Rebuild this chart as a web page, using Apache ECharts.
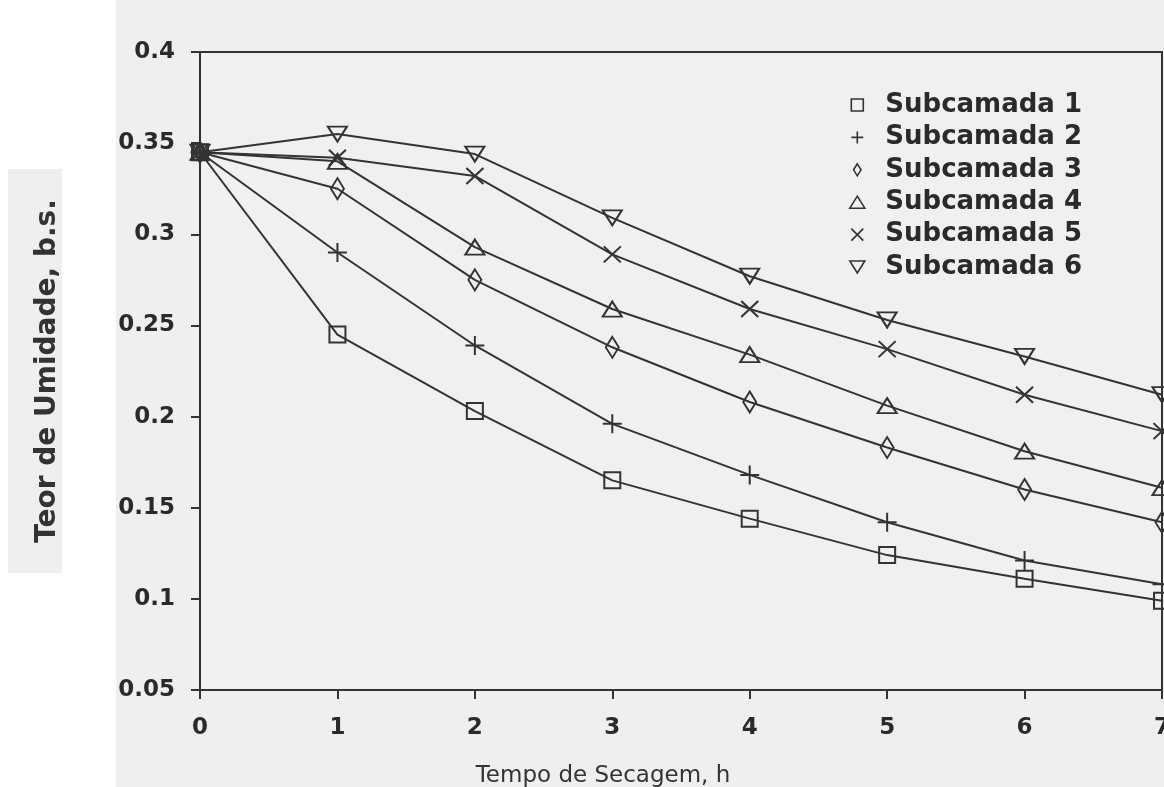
<!DOCTYPE html>
<html>
<head>
<meta charset="utf-8">
<script src="https://cdn.jsdelivr.net/npm/echarts@6/dist/echarts.min.js"></script>
<style>
html,body{margin:0;padding:0;background:#fff;}
#chart{width:1164px;height:787px;}
</style>
</head>
<body>
<div id="chart"></div>
<script>
// ---- data ----
var hours = [0, 1, 2, 3, 4, 5, 6, 7];
var seriesNames = ['Subcamada 1', 'Subcamada 2', 'Subcamada 3', 'Subcamada 4', 'Subcamada 5', 'Subcamada 6'];
var sub1 = [0.345, 0.245, 0.203, 0.165, 0.144, 0.124, 0.111, 0.099];
var sub2 = [0.345, 0.290, 0.239, 0.196, 0.168, 0.142, 0.121, 0.108];
var sub3 = [0.345, 0.325, 0.275, 0.238, 0.208, 0.183, 0.160, 0.142];
var sub4 = [0.345, 0.340, 0.293, 0.259, 0.234, 0.206, 0.181, 0.161];
var sub5 = [0.345, 0.342, 0.332, 0.289, 0.259, 0.237, 0.212, 0.192];
var sub6 = [0.345, 0.355, 0.344, 0.309, 0.277, 0.253, 0.233, 0.212];
var xTicks = [0, 1, 2, 3, 4, 5, 6, 7];
var yTickLabels = ['0.05', '0.1', '0.15', '0.2', '0.25', '0.3', '0.35', '0.4'];
var xTitle = 'Tempo de Secagem, h';
var yTitle = 'Teor de Umidade, b.s.';

// ---- styling ----
var ink = '#333333';
var symbols = [
  'path://M0,0 L10,0 L10,10 L0,10 Z',
  'path://M5,0 L5,10 M0,5 L10,5',
  'path://M5,0 L10,8 L5,16 L0,8 Z',
  'path://M5,0 L10,8 L0,8 Z',
  'path://M0,0 L10,10 M10,0 L0,10',
  'path://M0,0 L10,0 L5,8 Z'
];
var symbolSizes = [[16, 16], [19, 19], [13, 21], [19, 15], [17, 16], [19, 15]];
var allData = [sub1, sub2, sub3, sub4, sub5, sub6];

var series = allData.map(function (vals, i) {
  return {
    name: seriesNames[i],
    type: 'line',
    data: hours.map(function (h, k) { return [h, vals[k]]; }),
    symbol: symbols[i],
    symbolSize: symbolSizes[i],
    symbolKeepAspect: false,
    showAllSymbol: true,
    clip: false,
    lineStyle: { color: ink, width: 2 },
    itemStyle: { color: 'transparent', borderColor: ink, borderWidth: 2 },
    emphasis: { disabled: true },
    z: 2
  };
});

var chart = echarts.init(document.getElementById('chart'));
chart.setOption({
  backgroundColor: '#ffffff',
  animation: false,
  textStyle: { fontFamily: 'DejaVu Sans' },
  graphic: [
    { type: 'rect', left: 116, top: 0, shape: { width: 1048, height: 787 }, style: { fill: '#efefef' }, z: -10, silent: true }
  ],
  grid: {
    left: 200, right: 2, top: 52, bottom: 97,
    outerBoundsMode: 'none',
    containLabel: false,
    show: true, borderColor: ink, borderWidth: 2, backgroundColor: '#f0f0f0'
  },
  legend: {
    orient: 'vertical',
    left: 844, top: 87,
    itemWidth: 46, itemHeight: 12, itemGap: 6.4,
    symbolKeepAspect: true,
    selectedMode: false,
    data: seriesNames.map(function (n, i) {
      return { name: n, icon: symbols[i] };
    }),
    itemStyle: { color: 'transparent', borderColor: ink, borderWidth: 1.6 },
    textStyle: { fontFamily: 'DejaVu Sans', fontWeight: 'bold', fontSize: 26, lineHeight: 25.5, color: '#2a2a2a' }
  },
  xAxis: {
    type: 'value', min: 0, max: 7, interval: 1,
    name: xTitle, nameLocation: 'middle', nameGap: 75,
    nameTextStyle: { fontFamily: 'DejaVu Sans', fontSize: 23, color: '#333', padding: [0, 156, 0, 0] },
    axisLine: { show: true, onZero: false, lineStyle: { color: ink, width: 2 } },
    axisTick: { show: true, inside: false, length: 9, lineStyle: { color: ink, width: 2 } },
    axisLabel: {
      margin: 27, fontFamily: 'DejaVu Sans', fontWeight: 'bold', fontSize: 23, color: '#2a2a2a',
      formatter: function (v) { return xTicks.indexOf(v) >= 0 ? String(v) : ''; }
    },
    splitLine: { show: false }
  },
  yAxis: {
    type: 'value', min: 0.05, max: 0.4, interval: 0.05,
    name: yTitle, nameLocation: 'middle', nameGap: 138,
    nameTextStyle: {
      fontFamily: 'DejaVu Sans', fontWeight: 'bold', fontSize: 28, color: '#333',
      backgroundColor: '#efefef', padding: [26, 30, 0, 30]
    },
    axisLine: { show: true, onZero: false, lineStyle: { color: ink, width: 2 } },
    axisTick: { show: true, inside: false, length: 9, lineStyle: { color: ink, width: 2 } },
    axisLabel: {
      margin: 25, fontFamily: 'DejaVu Sans', fontWeight: 'bold', fontSize: 23, color: '#2a2a2a',
      formatter: function (v) {
        var idx = Math.round((v - 0.05) / 0.05);
        return yTickLabels[idx] !== undefined ? yTickLabels[idx] : '';
      }
    },
    splitLine: { show: false }
  },
  series: series
});
</script>
</body>
</html>
